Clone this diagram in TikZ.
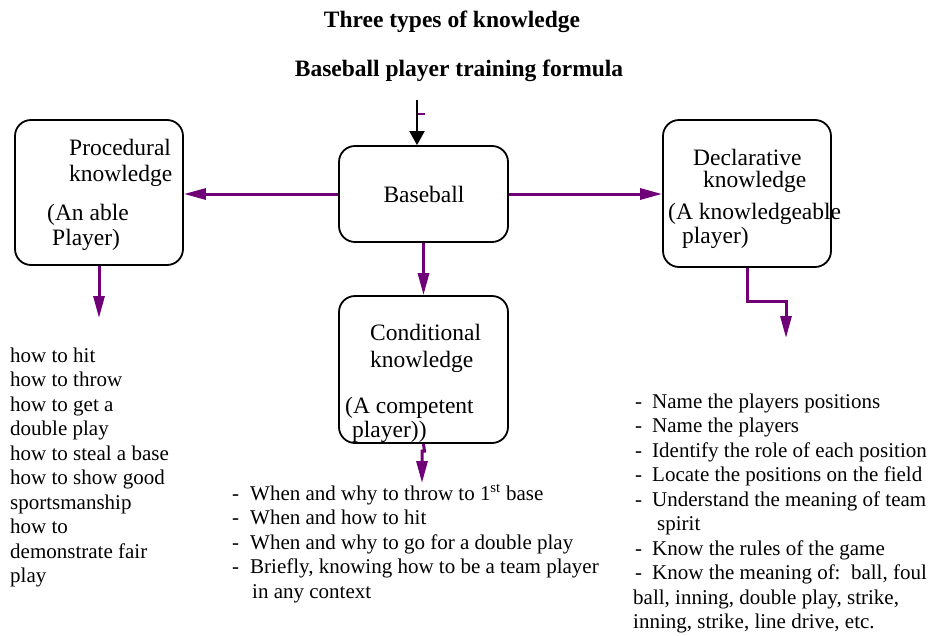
\documentclass[tikz,border=0pt]{standalone}
\usepackage{fontspec}
\setmainfont{LiberationSerif}[Extension=.ttf, UprightFont=*-Regular, BoldFont=*-Bold, ItalicFont=*-Italic, BoldItalicFont=*-BoldItalic]
\usetikzlibrary{arrows.meta}
\definecolor{arrpurple}{RGB}{112,0,120}
\tikzset{
  box/.style={draw=black, line width=1.8pt, rounded corners=16pt, inner sep=0pt},
  boxtxt/.style={inner sep=0pt, anchor=base west, font=\fontsize{23.5}{28}\selectfont},
  listtxt/.style={inner sep=0pt, anchor=base west, font=\fontsize{21}{24.5}\selectfont},
  titletxt/.style={inner sep=0pt, anchor=base, font=\fontsize{23.5}{28}\selectfont\bfseries},
  parr/.style={draw=arrpurple, line width=3pt, -{Triangle[length=22pt,width=11pt]}},
  barr/.style={draw=black, line width=2pt, -{Triangle[length=14pt,width=15pt]}}
}
\newcommand{\dsh}[1]{\makebox[#1][l]{-}}
\begin{document}
\begin{tikzpicture}[x=1pt,y=-1pt]
\useasboundingbox (0,0) rectangle (932,635);
% titles
\node[titletxt] (t1) at (452,27) {Three types of knowledge};
\node[titletxt] (t2) at (459,76) {Baseball player training formula};
% boxes
\node[box, minimum width=168pt, minimum height=145pt] (proc) at (99,192.5) {};
\node[box, minimum width=169pt, minimum height=96pt] (base) at (423.5,194) {};
\node[box, minimum width=168pt, minimum height=147pt] (decl) at (747,193.5) {};
\node[box, minimum width=169pt, minimum height=147pt] (cond) at (423.5,369.5) {};
% box texts
\node[boxtxt] (p1) at (69,155) {Procedural};
\node[boxtxt] (p2) at (69,181) {knowledge};
\node[boxtxt] (p3) at (47,220) {(An able};
\node[boxtxt] (p4) at (52,245) {Player)};
\node[boxtxt, anchor=base] (b1) at (424,202) {Baseball};
\node[boxtxt] (d1) at (693,165) {Declarative};
\node[boxtxt] (d2) at (703,187) {knowledge};
\node[boxtxt] (d3) at (668,219) {(A knowledgeable};
\node[boxtxt] (d4) at (682,243) {player)};
\node[boxtxt] (c1) at (370,340) {Conditional};
\node[boxtxt] (c2) at (370,367) {knowledge};
\node[boxtxt] (c3) at (345,413) {(A competent};
\node[boxtxt] (c4) at (352,437) {player))};
% connectors
\coordinate (topstart) at (417,100);
\draw[barr] (topstart) -- (topstart |- base.north);
\coordinate (mk1) at (418,114);
\coordinate (mk2) at (425,114);
\draw[draw=arrpurple, line width=2pt] (mk1) -- (mk2);
\draw[parr] (base.west) -- (base.west -| proc.east);
\draw[parr] (base.east) -- (base.east -| decl.west);
\draw[parr] (base.south) -- (cond.north);
\coordinate (pa) at (99,318);
\draw[parr] (proc.south) -- (pa);
\coordinate (dturn) at (786,301);
\coordinate (da) at (786,338);
\draw[parr] (decl.south) |- (dturn) -- (da);
\coordinate (cj1) at (424.5,451);
\coordinate (cj2) at (422,451);
\coordinate (ca) at (422,483);
\draw[parr] (cond.south) -- (cj1) -- (cj2) -- (ca);
% left list
\node[listtxt] (l1) at (10,362) {how to hit};
\node[listtxt] (l2) at (10,386.5) {how to throw};
\node[listtxt] (l3) at (10,411) {how to get a};
\node[listtxt] (l4) at (10,435.5) {double play};
\node[listtxt] (l5) at (10,460) {how to steal a base};
\node[listtxt] (l6) at (10,484.5) {how to show good};
\node[listtxt] (l7) at (10,509) {sportsmanship};
\node[listtxt] (l8) at (10,533.5) {how to};
\node[listtxt] (l9) at (10,558) {demonstrate fair};
\node[listtxt] (l10) at (10,582.5) {play};
% middle list
\node[listtxt] (m1) at (232,500) {\dsh{18pt}When and why to throw to 1\textsuperscript{st} base};
\node[listtxt] (m2) at (232,524.5) {\dsh{18pt}When and how to hit};
\node[listtxt] (m3) at (232,549) {\dsh{18pt}When and why to go for a double play};
\node[listtxt] (m4) at (232,573.5) {\dsh{18pt}Briefly, knowing how to be a team player};
\node[listtxt] (m5) at (252,598) {in any context};
% right list
\node[listtxt] (r1) at (635,408) {\dsh{17pt}Name the players positions};
\node[listtxt] (r2) at (635,432.5) {\dsh{17pt}Name the players};
\node[listtxt] (r3) at (635,457) {\dsh{17pt}Identify the role of each position};
\node[listtxt] (r4) at (635,481.5) {\dsh{17pt}Locate the positions on the field};
\node[listtxt] (r5) at (635,506) {\dsh{17pt}Understand the meaning of team};
\node[listtxt] (r6) at (657,530.5) {spirit};
\node[listtxt] (r7) at (635,555) {\dsh{17pt}Know the rules of the game};
\node[listtxt] (r8) at (635,579.5) {\dsh{17pt}Know the meaning of:\ \ ball, foul};
\node[listtxt] (r9) at (633,604) {ball, inning, double play, strike,};
\node[listtxt] (r10) at (633,628.5) {inning, strike, line drive, etc.};
\end{tikzpicture}
\end{document}
